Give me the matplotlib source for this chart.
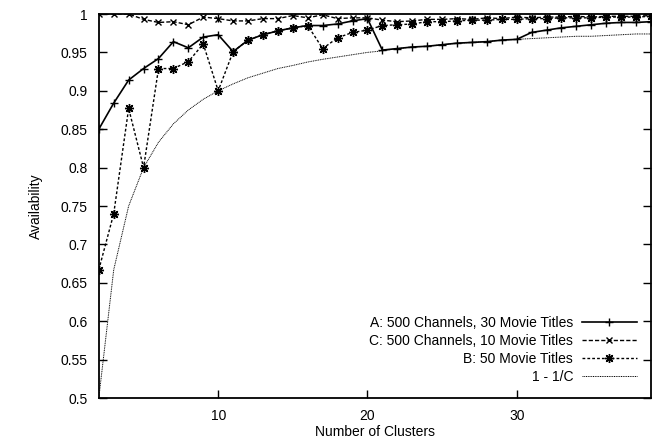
import matplotlib
matplotlib.use("Agg")
import matplotlib.pyplot as plt

plt.rcParams['font.family'] = ['Liberation Sans', 'DejaVu Sans']

clusters = list(range(2, 40))

# A: 500 channels, 30 titles
avail_a = [0.850, 0.884, 0.914, 0.929, 0.942, 0.964, 0.956, 0.970, 0.973, 0.951,
           0.966, 0.973, 0.978, 0.982, 0.985, 0.985, 0.987, 0.991, 0.994, 0.953,
           0.955, 0.957, 0.958, 0.960, 0.962, 0.963, 0.964, 0.966, 0.967, 0.976,
           0.979, 0.982, 0.984, 0.986, 0.988, 0.989, 0.989, 0.990]
# C: 500 channels, 10 titles
avail_c = [1.000, 1.000, 1.000, 0.993, 0.989, 0.990, 0.986, 0.996, 0.994, 0.991,
           0.991, 0.994, 0.994, 0.998, 0.995, 0.999, 0.994, 0.995, 0.995, 0.992,
           0.990, 0.991, 0.993, 0.993, 0.994, 0.993, 0.995, 0.994, 0.996, 0.995,
           0.996, 0.996, 0.997, 0.996, 0.997, 0.997, 0.997, 0.998]
# B: 50 titles
avail_b = [0.667, 0.740, 0.877, 0.800, 0.929, 0.929, 0.938, 0.961, 0.900, 0.951,
           0.966, 0.973, 0.978, 0.982, 0.985, 0.955, 0.969, 0.976, 0.979, 0.985,
           0.986, 0.987, 0.990, 0.990, 0.991, 0.992, 0.992, 0.993, 0.993, 0.994,
           0.994, 0.995, 0.995, 0.995, 0.996, 0.996, 0.996, 0.997]
# 1 - 1/C
bound = [0.500, 0.667, 0.750, 0.800, 0.833, 0.857, 0.875, 0.889, 0.900, 0.909,
         0.917, 0.923, 0.929, 0.933, 0.9375, 0.941, 0.944, 0.947, 0.950, 0.952,
         0.955, 0.957, 0.958, 0.960, 0.962, 0.963, 0.964, 0.966, 0.967, 0.968,
         0.969, 0.970, 0.971, 0.971, 0.972, 0.973, 0.974, 0.974]

fig = plt.figure(figsize=(6.61, 4.43), dpi=100)
ax = fig.add_axes([98.8 / 661, 45 / 443, (651 - 98.8) / 661, (398 - 14) / 443])

ax.plot(clusters, avail_a, color='black', lw=1.2, marker='+', ms=6, mew=1.0,
        label='A: 500 Channels, 30 Movie Titles')
ax.plot(clusters, avail_c, color='black', lw=1.0, ls=(0, (3, 1.5)), marker='x', ms=4.5, mew=1.0,
        label='C: 500 Channels, 10 Movie Titles')
ax.plot(clusters, avail_b, color='black', lw=1.0, ls=(0, (2, 1.5)), marker=(8, 2, 0), ms=6.5, mew=1.0,
        label='B: 50 Movie Titles')
ax.plot(clusters, bound, color='black', lw=0.7, ls=(0, (1, 0.8)),
        label='1 - 1/C')

ax.set_xlim(2, 39)
ax.set_ylim(0.5, 1.0)
ax.set_xticks([10, 20, 30])
ax.set_yticks([0.5, 0.55, 0.6, 0.65, 0.7, 0.75, 0.8, 0.85, 0.9, 0.95, 1.0])
ax.set_yticklabels(['0.5', '0.55', '0.6', '0.65', '0.7', '0.75', '0.8', '0.85', '0.9', '0.95', '1'])
ax.tick_params(direction='in', length=6, width=1.0, labelsize=10, top=True, right=True, pad=8)
for s in ax.spines.values():
    s.set_linewidth(1.3)

ax.set_xlabel('Number of Clusters', fontsize=10, labelpad=1)
ax.set_ylabel('Availability', fontsize=10, labelpad=13)

ax.legend(loc='lower right', frameon=False, markerfirst=False, fontsize=10,
          handlelength=4.0, labelspacing=0.3, borderaxespad=0.6, handletextpad=0.6)

fig.savefig('out.png', dpi=100)
